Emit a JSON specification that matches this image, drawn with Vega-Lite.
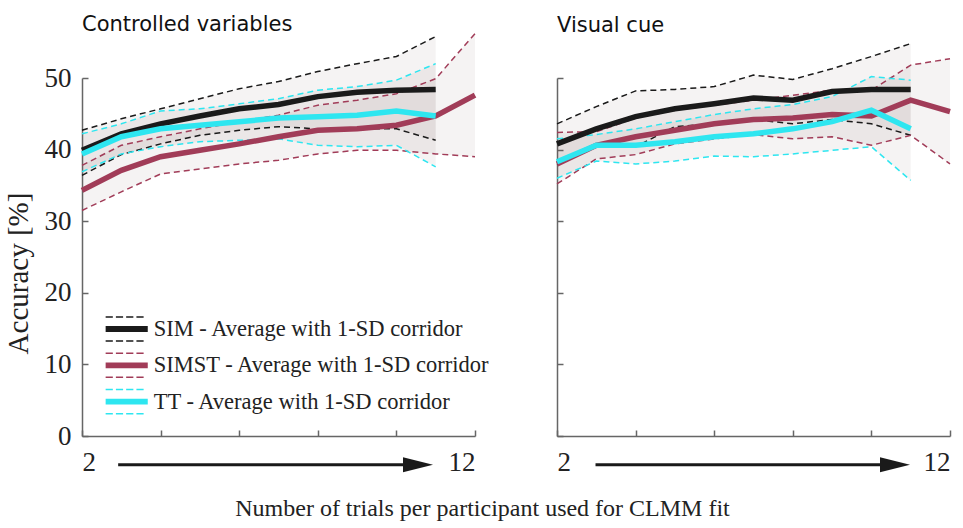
{
  "$schema": "https://vega.github.io/schema/vega-lite/v6.json",
  "padding": {"left": 4, "top": 13, "right": 5, "bottom": 5},
  "background": "white",
  "config": {"view": {"stroke": null}},
  "bounds": "flush",
  "spacing": 82,
  "resolve": {"scale": {"color": "independent", "stroke": "independent"}},
  "title": {"text": "Number of trials per participant used for CLMM fit", "orient": "bottom", "anchor": "middle", "font": "Liberation Serif", "fontSize": 24, "fontWeight": "normal", "color": "#222", "offset": 22},
  "datasets": {
    "main": [
      {"panel": "Controlled variables", "series": "SIM", "trials": 2, "mean": 39.9, "lo": 36.4, "hi": 42.7},
      {"panel": "Controlled variables", "series": "SIM", "trials": 3, "mean": 42.2, "lo": 39.3, "hi": 44.3},
      {"panel": "Controlled variables", "series": "SIM", "trials": 4, "mean": 43.6, "lo": 40.8, "hi": 45.7},
      {"panel": "Controlled variables", "series": "SIM", "trials": 5, "mean": 44.7, "lo": 42.0, "hi": 47.1},
      {"panel": "Controlled variables", "series": "SIM", "trials": 6, "mean": 45.7, "lo": 42.7, "hi": 48.5},
      {"panel": "Controlled variables", "series": "SIM", "trials": 7, "mean": 46.3, "lo": 43.2, "hi": 49.5},
      {"panel": "Controlled variables", "series": "SIM", "trials": 8, "mean": 47.4, "lo": 42.9, "hi": 50.9},
      {"panel": "Controlled variables", "series": "SIM", "trials": 9, "mean": 48.0, "lo": 42.9, "hi": 52.0},
      {"panel": "Controlled variables", "series": "SIM", "trials": 10, "mean": 48.3, "lo": 42.9, "hi": 53.0},
      {"panel": "Controlled variables", "series": "SIM", "trials": 11, "mean": 48.4, "lo": 41.3, "hi": 55.8},
      {"panel": "Controlled variables", "series": "SIMST", "trials": 2, "mean": 34.3, "lo": 31.5, "hi": 37.8},
      {"panel": "Controlled variables", "series": "SIMST", "trials": 3, "mean": 37.1, "lo": 34.1, "hi": 40.6},
      {"panel": "Controlled variables", "series": "SIMST", "trials": 4, "mean": 39.0, "lo": 36.6, "hi": 41.8},
      {"panel": "Controlled variables", "series": "SIMST", "trials": 5, "mean": 39.9, "lo": 37.3, "hi": 42.9},
      {"panel": "Controlled variables", "series": "SIMST", "trials": 6, "mean": 40.8, "lo": 38.0, "hi": 43.9},
      {"panel": "Controlled variables", "series": "SIMST", "trials": 7, "mean": 41.8, "lo": 38.5, "hi": 44.8},
      {"panel": "Controlled variables", "series": "SIMST", "trials": 8, "mean": 42.7, "lo": 39.4, "hi": 46.2},
      {"panel": "Controlled variables", "series": "SIMST", "trials": 9, "mean": 42.9, "lo": 39.9, "hi": 46.9},
      {"panel": "Controlled variables", "series": "SIMST", "trials": 10, "mean": 43.4, "lo": 39.9, "hi": 47.8},
      {"panel": "Controlled variables", "series": "SIMST", "trials": 11, "mean": 44.7, "lo": 39.4, "hi": 49.9},
      {"panel": "Controlled variables", "series": "SIMST", "trials": 12, "mean": 47.6, "lo": 39.0, "hi": 56.2},
      {"panel": "Controlled variables", "series": "TT", "trials": 2, "mean": 39.4, "lo": 36.9, "hi": 42.2},
      {"panel": "Controlled variables", "series": "TT", "trials": 3, "mean": 41.8, "lo": 39.4, "hi": 43.6},
      {"panel": "Controlled variables", "series": "TT", "trials": 4, "mean": 42.9, "lo": 40.4, "hi": 45.4},
      {"panel": "Controlled variables", "series": "TT", "trials": 5, "mean": 43.4, "lo": 41.1, "hi": 45.7},
      {"panel": "Controlled variables", "series": "TT", "trials": 6, "mean": 43.9, "lo": 41.3, "hi": 46.4},
      {"panel": "Controlled variables", "series": "TT", "trials": 7, "mean": 44.4, "lo": 41.5, "hi": 47.1},
      {"panel": "Controlled variables", "series": "TT", "trials": 8, "mean": 44.6, "lo": 40.6, "hi": 48.3},
      {"panel": "Controlled variables", "series": "TT", "trials": 9, "mean": 44.8, "lo": 40.4, "hi": 48.8},
      {"panel": "Controlled variables", "series": "TT", "trials": 10, "mean": 45.4, "lo": 40.6, "hi": 49.7},
      {"panel": "Controlled variables", "series": "TT", "trials": 11, "mean": 44.7, "lo": 37.6, "hi": 52.0},
      {"panel": "Visual cue", "series": "SIM", "trials": 2, "mean": 40.8, "lo": 37.9, "hi": 43.6},
      {"panel": "Visual cue", "series": "SIM", "trials": 3, "mean": 42.9, "lo": 40.6, "hi": 46.0},
      {"panel": "Visual cue", "series": "SIM", "trials": 4, "mean": 44.6, "lo": 40.4, "hi": 48.2},
      {"panel": "Visual cue", "series": "SIM", "trials": 5, "mean": 45.7, "lo": 43.2, "hi": 48.4},
      {"panel": "Visual cue", "series": "SIM", "trials": 6, "mean": 46.4, "lo": 43.6, "hi": 48.8},
      {"panel": "Visual cue", "series": "SIM", "trials": 7, "mean": 47.2, "lo": 44.2, "hi": 50.4},
      {"panel": "Visual cue", "series": "SIM", "trials": 8, "mean": 46.9, "lo": 43.6, "hi": 49.8},
      {"panel": "Visual cue", "series": "SIM", "trials": 9, "mean": 48.1, "lo": 44.2, "hi": 51.3},
      {"panel": "Visual cue", "series": "SIM", "trials": 10, "mean": 48.4, "lo": 43.6, "hi": 53.0},
      {"panel": "Visual cue", "series": "SIM", "trials": 11, "mean": 48.4, "lo": 42.0, "hi": 54.8},
      {"panel": "Visual cue", "series": "SIMST", "trials": 2, "mean": 38.0, "lo": 35.2, "hi": 42.4},
      {"panel": "Visual cue", "series": "SIMST", "trials": 3, "mean": 40.6, "lo": 38.7, "hi": 42.5},
      {"panel": "Visual cue", "series": "SIMST", "trials": 4, "mean": 41.8, "lo": 39.3, "hi": 44.4},
      {"panel": "Visual cue", "series": "SIMST", "trials": 5, "mean": 42.7, "lo": 40.8, "hi": 45.5},
      {"panel": "Visual cue", "series": "SIMST", "trials": 6, "mean": 43.6, "lo": 41.5, "hi": 46.2},
      {"panel": "Visual cue", "series": "SIMST", "trials": 7, "mean": 44.2, "lo": 42.1, "hi": 46.9},
      {"panel": "Visual cue", "series": "SIMST", "trials": 8, "mean": 44.4, "lo": 41.5, "hi": 47.6},
      {"panel": "Visual cue", "series": "SIMST", "trials": 9, "mean": 44.9, "lo": 41.8, "hi": 48.3},
      {"panel": "Visual cue", "series": "SIMST", "trials": 10, "mean": 44.7, "lo": 40.6, "hi": 48.3},
      {"panel": "Visual cue", "series": "SIMST", "trials": 11, "mean": 46.9, "lo": 42.0, "hi": 51.8},
      {"panel": "Visual cue", "series": "SIMST", "trials": 12, "mean": 45.3, "lo": 38.0, "hi": 52.7},
      {"panel": "Visual cue", "series": "TT", "trials": 2, "mean": 38.3, "lo": 36.0, "hi": 41.5},
      {"panel": "Visual cue", "series": "TT", "trials": 3, "mean": 40.6, "lo": 38.4, "hi": 42.1},
      {"panel": "Visual cue", "series": "TT", "trials": 4, "mean": 40.6, "lo": 38.0, "hi": 42.9},
      {"panel": "Visual cue", "series": "TT", "trials": 5, "mean": 41.1, "lo": 38.4, "hi": 43.9},
      {"panel": "Visual cue", "series": "TT", "trials": 6, "mean": 41.8, "lo": 39.1, "hi": 44.9},
      {"panel": "Visual cue", "series": "TT", "trials": 7, "mean": 42.2, "lo": 39.0, "hi": 45.7},
      {"panel": "Visual cue", "series": "TT", "trials": 8, "mean": 42.9, "lo": 39.4, "hi": 46.3},
      {"panel": "Visual cue", "series": "TT", "trials": 9, "mean": 43.9, "lo": 39.9, "hi": 47.4},
      {"panel": "Visual cue", "series": "TT", "trials": 10, "mean": 45.5, "lo": 40.4, "hi": 50.2},
      {"panel": "Visual cue", "series": "TT", "trials": 11, "mean": 42.9, "lo": 35.7, "hi": 49.7}
    ],
    "arrows": [
      {"panel": "Controlled variables", "start": 2.92, "end": 10.6, "head": 10.55, "level": -4},
      {"panel": "Visual cue", "start": 2.98, "end": 10.6, "head": 10.6, "level": -4}
    ]
  },
  "hconcat": [
    {
      "width": 393, "height": 358,
      "title": {"text": "Controlled variables", "anchor": "start", "frame": "group", "font": "DejaVu Sans", "fontSize": 21, "fontWeight": "normal", "color": "#111", "offset": -4},
      "layer": [
        {
          "data": {"name": "main"},
          "transform": [{"filter": "datum.panel == 'Controlled variables'"}],
          "mark": {"type": "area", "fill": "#6b5a5a", "fillOpacity": 0.07, "clip": false},
          "encoding": {
            "x": {"field": "trials", "type": "quantitative", "scale": {"domain": [2, 12], "nice": false},
              "axis": {"values": [2,3,4,5,6,7,8,9,10,11,12], "labelExpr": "datum.value == 2 || datum.value == 12 ? datum.label : ''", "title": null, "grid": false, "tickSize": -6, "domainColor": "#666", "tickColor": "#666", "domainWidth": 1.5, "tickWidth": 1.5, "labelFont": "Liberation Serif", "labelFontSize": 27, "labelColor": "#222", "labelPadding": 19}},
            "y": {"field": "lo", "type": "quantitative", "scale": {"domain": [0, 50], "nice": false},
              "axis": {"values": [0,10,20,30,40,50], "title": "Accuracy [%]", "titleFont": "Liberation Serif", "titleFontSize": 29, "titleFontWeight": "normal", "titleColor": "#222", "titlePadding": 11, "titleY": 195, "grid": false, "tickSize": -6, "domainColor": "#666", "tickColor": "#666", "domainWidth": 1.5, "tickWidth": 1.5, "labelFont": "Liberation Serif", "labelFontSize": 27, "labelColor": "#222", "labelPadding": 17}},
            "y2": {"field": "hi"},
            "detail": {"field": "series"}
          }
        },
        {
          "data": {"name": "main"},
          "transform": [{"filter": "datum.panel == 'Controlled variables'"}],
          "mark": {"type": "line", "strokeWidth": 1.5, "strokeDash": [6, 4], "clip": false},
          "encoding": {
            "x": {"field": "trials", "type": "quantitative"},
            "y": {"field": "lo", "type": "quantitative"},
            "stroke": {"field": "series", "type": "nominal", "scale": {"domain": ["TT", "SIMST", "SIM"], "range": ["#2ee6f0", "#a13c58", "#1a1a1a"]}, "legend": null}
          }
        },
        {
          "data": {"name": "main"},
          "transform": [{"filter": "datum.panel == 'Controlled variables'"}],
          "mark": {"type": "line", "strokeWidth": 1.5, "strokeDash": [6, 4], "clip": false},
          "encoding": {
            "x": {"field": "trials", "type": "quantitative"},
            "y": {"field": "hi", "type": "quantitative"},
            "stroke": {"field": "series", "type": "nominal", "legend": null}
          }
        },
        {
          "data": {"name": "main"},
          "transform": [{"filter": "datum.panel == 'Controlled variables'"}],
          "mark": {"type": "line", "strokeWidth": 5.5, "clip": false},
          "encoding": {
            "x": {"field": "trials", "type": "quantitative"},
            "y": {"field": "mean", "type": "quantitative"},
            "color": {"field": "series", "type": "nominal",
              "scale": {"domain": ["SIM", "SIMST", "TT"], "range": ["#1a1a1a", "#a13c58", "#2ee6f0"]},
              "legend": {"orient": "none", "legendX": 25.7, "legendY": 232, "title": null, "padding": 0, "rowPadding": 1.3,
                "labelExpr": "datum.label + ' - Average with 1-SD corridor'",
                "labelFont": "Liberation Serif", "labelFontSize": 22.5, "labelColor": "#222", "labelOffset": 8, "labelLimit": 400,
                "symbolType": "M-1.17,-0.67H-0.77M-0.6,-0.67H-0.2M-0.03,-0.67H0.37M0.54,-0.67H0.94M-1.17,0.67H-0.77M-0.6,0.67H-0.2M-0.03,0.67H0.37M0.54,0.67H0.94M-1.17,-0.12H1.17M-1.17,-0.06H1.17M-1.17,0H1.17M-1.17,0.06H1.17M-1.17,0.12H1.17",
                "symbolSize": 1296, "symbolStrokeWidth": 1.5}}
          }
        },
        {
          "data": {"name": "arrows"},
          "transform": [{"filter": "datum.panel == 'Controlled variables'"}],
          "mark": {"type": "rule", "strokeWidth": 3, "color": "#1a1a1a", "clip": false},
          "encoding": {
            "x": {"field": "start", "type": "quantitative"},
            "x2": {"field": "end"},
            "y": {"field": "level", "type": "quantitative"}
          }
        },
        {
          "data": {"name": "arrows"},
          "transform": [{"filter": "datum.panel == 'Controlled variables'"}],
          "mark": {"type": "point", "shape": "M-1,-0.5L1,0L-1,0.5Z", "size": 900, "filled": true, "color": "#1a1a1a", "opacity": 1, "clip": false},
          "encoding": {
            "x": {"field": "head", "type": "quantitative"},
            "y": {"field": "level", "type": "quantitative"}
          }
        }
      ]
    },
    {
      "width": 393, "height": 358,
      "title": {"text": "Visual cue", "anchor": "start", "frame": "group", "font": "DejaVu Sans", "fontSize": 21, "fontWeight": "normal", "color": "#111", "offset": 5},
      "layer": [
        {
          "data": {"name": "main"},
          "transform": [{"filter": "datum.panel == 'Visual cue'"}],
          "mark": {"type": "area", "fill": "#6b5a5a", "fillOpacity": 0.07, "clip": false},
          "encoding": {
            "x": {"field": "trials", "type": "quantitative", "scale": {"domain": [2, 12], "nice": false},
              "axis": {"values": [2,3,4,5,6,7,8,9,10,11,12], "labelExpr": "datum.value == 2 || datum.value == 12 ? datum.label : ''", "title": null, "grid": false, "tickSize": -6, "domainColor": "#666", "tickColor": "#666", "domainWidth": 1.5, "tickWidth": 1.5, "labelFont": "Liberation Serif", "labelFontSize": 27, "labelColor": "#222", "labelPadding": 19}},
            "y": {"field": "lo", "type": "quantitative", "scale": {"domain": [0, 50], "nice": false},
              "axis": {"values": [0,10,20,30,40,50], "title": null, "labels": false, "grid": false, "tickSize": -6, "domainColor": "#666", "tickColor": "#666", "domainWidth": 1.5, "tickWidth": 1.5}},
            "y2": {"field": "hi"},
            "detail": {"field": "series"}
          }
        },
        {
          "data": {"name": "main"},
          "transform": [{"filter": "datum.panel == 'Visual cue'"}],
          "mark": {"type": "line", "strokeWidth": 1.5, "strokeDash": [6, 4], "clip": false},
          "encoding": {
            "x": {"field": "trials", "type": "quantitative"},
            "y": {"field": "lo", "type": "quantitative"},
            "stroke": {"field": "series", "type": "nominal", "scale": {"domain": ["SIM", "SIMST", "TT"], "range": ["#1a1a1a", "#a13c58", "#2ee6f0"]}, "legend": null}
          }
        },
        {
          "data": {"name": "main"},
          "transform": [{"filter": "datum.panel == 'Visual cue'"}],
          "mark": {"type": "line", "strokeWidth": 1.5, "strokeDash": [6, 4], "clip": false},
          "encoding": {
            "x": {"field": "trials", "type": "quantitative"},
            "y": {"field": "hi", "type": "quantitative"},
            "stroke": {"field": "series", "type": "nominal", "legend": null}
          }
        },
        {
          "data": {"name": "main"},
          "transform": [{"filter": "datum.panel == 'Visual cue'"}],
          "mark": {"type": "line", "strokeWidth": 5.5, "clip": false},
          "encoding": {
            "x": {"field": "trials", "type": "quantitative"},
            "y": {"field": "mean", "type": "quantitative"},
            "stroke": {"field": "series", "type": "nominal", "legend": null}
          }
        },
        {
          "data": {"name": "arrows"},
          "transform": [{"filter": "datum.panel == 'Visual cue'"}],
          "mark": {"type": "rule", "strokeWidth": 3, "color": "#1a1a1a", "clip": false},
          "encoding": {
            "x": {"field": "start", "type": "quantitative"},
            "x2": {"field": "end"},
            "y": {"field": "level", "type": "quantitative"}
          }
        },
        {
          "data": {"name": "arrows"},
          "transform": [{"filter": "datum.panel == 'Visual cue'"}],
          "mark": {"type": "point", "shape": "M-1,-0.5L1,0L-1,0.5Z", "size": 900, "filled": true, "color": "#1a1a1a", "opacity": 1, "clip": false},
          "encoding": {
            "x": {"field": "head", "type": "quantitative"},
            "y": {"field": "level", "type": "quantitative"}
          }
        }
      ]
    }
  ]
}
